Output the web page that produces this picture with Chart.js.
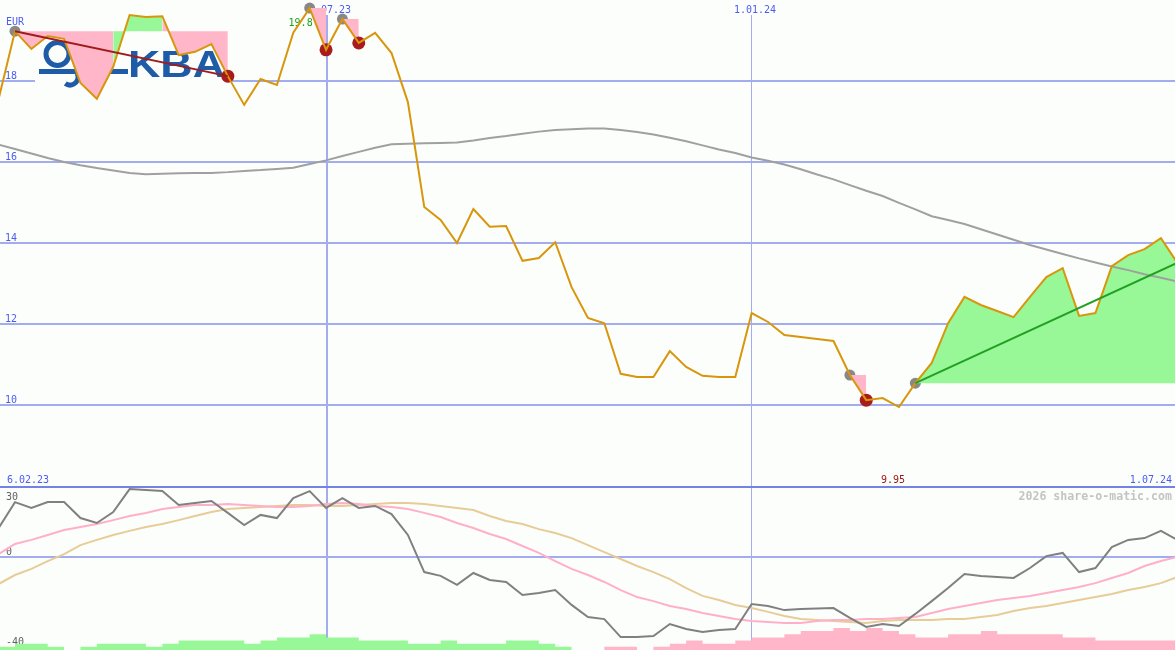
<!DOCTYPE html>
<html><head><meta charset="utf-8">
<script src="https://cdn.jsdelivr.net/npm/chart.js@4/dist/chart.umd.min.js"></script>
<style>
html,body{margin:0;padding:0;background:#fcfefc;}
#wrap{position:relative;width:1175px;height:650px;overflow:hidden;background:#fcfefc;}
#top{position:absolute;left:0;top:0;}
#bot{position:absolute;left:0;top:487px;}
</style></head><body>
<div id="wrap">
<canvas id="top" width="1175" height="487"></canvas>
<canvas id="bot" width="1175" height="163"></canvas>
</div>
<script>
// ---------- data (weekly points, first entry is week -1) ----------
const firstWeek = -1;
const price = [17.56,
 19.23,18.79,19.11,19.04,17.95,17.56,18.35,19.63,19.58,19.60,
 18.64,18.72,18.91,18.12,17.41,18.05,17.90,19.19,19.80,18.77,
 19.53,18.94,19.19,18.69,17.48,14.89,14.57,14.00,14.84,14.40,
 14.42,13.56,13.63,14.02,12.91,12.15,12.02,10.77,10.69,10.69,
 11.33,10.94,10.72,10.69,10.69,12.27,12.05,11.73,11.68,11.63,
 11.58,10.74,10.12,10.17,9.95,10.54,11.04,12.02,12.67,12.47,
 12.32,12.17,12.67,13.16,13.38,12.20,12.27,13.43,13.70,13.85,
 14.12,13.51];
const movingAvg = [16.43,
 16.32,16.21,16.10,16.00,15.92,15.85,15.79,15.73,15.70,15.71,
 15.72,15.73,15.73,15.75,15.78,15.80,15.83,15.86,15.95,16.04,
 16.15,16.25,16.35,16.44,16.45,16.46,16.47,16.48,16.53,16.59,
 16.64,16.70,16.75,16.79,16.81,16.83,16.83,16.79,16.74,16.68,
 16.60,16.51,16.41,16.31,16.22,16.11,16.03,15.94,15.82,15.69,
 15.57,15.43,15.29,15.16,14.99,14.83,14.66,14.57,14.47,14.34,
 14.21,14.08,13.95,13.84,13.73,13.62,13.52,13.42,13.33,13.23,
 13.14,13.05];
const oscillator = [12.9,
 24.4,21.8,24.4,24.4,17.3,15.1,20.0,30.2,29.8,29.3,
 23.1,24.0,24.9,19.6,14.2,18.7,17.3,26.2,29.3,21.8,
 26.2,21.8,22.7,19.1,9.8,-6.7,-8.4,-12.4,-7.1,-10.2,
 -11.1,-16.9,-16.0,-14.7,-21.3,-26.7,-27.6,-35.6,-35.6,-35.1,
 -29.8,-32.0,-33.3,-32.4,-32.0,-20.9,-21.8,-23.6,-23.1,-22.9,
 -22.7,-27.1,-31.1,-29.8,-30.7,-25.3,-19.6,-13.8,-7.6,-8.4,
 -8.9,-9.3,-4.9,0.4,1.8,-6.7,-4.9,4.4,7.6,8.4,
 11.6,7.6];
const signalFast = [1.3,
 5.8,7.6,9.8,12.0,13.3,14.7,16.4,18.2,19.6,21.3,
 22.2,23.1,23.1,23.6,23.1,22.7,22.2,22.2,22.7,23.6,
 24.0,23.6,22.7,22.2,21.3,19.6,17.8,15.1,12.9,10.2,
 8.0,4.9,1.8,-1.8,-5.3,-8.0,-11.1,-14.7,-17.8,-19.6,
 -21.8,-23.1,-24.9,-26.2,-27.6,-28.4,-28.9,-29.3,-29.3,-28.4,
 -28.0,-28.0,-27.6,-27.6,-27.1,-26.7,-24.9,-23.1,-21.8,-20.4,
 -19.1,-18.2,-17.3,-16.0,-14.7,-13.3,-11.6,-9.3,-7.1,-4.0,
 -1.8,0.0];
const signalSlow = [-12.0,
 -8.0,-5.3,-1.8,1.3,5.3,7.6,9.8,11.6,13.3,14.7,
 16.4,18.2,20.0,21.3,21.8,22.2,22.7,23.1,23.1,22.7,
 22.7,23.1,23.6,24.0,24.0,23.6,22.7,21.8,20.9,18.2,
 16.0,14.7,12.4,10.7,8.4,5.3,2.2,-0.9,-4.0,-6.7,
 -9.8,-13.8,-17.3,-19.1,-21.3,-22.7,-24.4,-26.2,-27.6,-28.0,
 -28.4,-28.9,-29.3,-28.4,-28.0,-28.0,-28.0,-27.6,-27.6,-26.7,
 -25.8,-24.0,-22.7,-21.8,-20.4,-19.1,-17.8,-16.4,-14.7,-13.3,
 -11.6,-8.9];
const histogram = [1,
 1,2,2,1,0,1,2,2,2,1,
 2,3,3,3,3,2,3,4,4,5,
 4,4,3,3,3,2,2,3,2,2,
 2,3,3,2,1,0,0,-1,-1,0,
 -1,-2,-3,-2,-2,-3,-4,-4,-5,-6,
 -6,-7,-6,-7,-6,-5,-4,-4,-5,-5,
 -6,-5,-5,-5,-5,-4,-4,-3,-3,-3,
 -3,-3];
const priceTicks = [18,16,14,12,10];
const oscTicks = [30,0,-40];
const patternStart = [0,18,20,51,55];
const patternEnd   = [13,19,21,52,71];
const patternClosed = [true,true,true,true,false];
const trendPatterns = [0,4];
const markWeeks = [19.06,45.02];
const markLabels = ['1.07.23','1.01.24'];
const rangeLabels = ['6.02.23','1.07.24'];
const currency = 'EUR';
const maxText = '19.8', minText = '9.95';
const viewWeeks = [-0.916, 70.86];

// ---------- style ----------
const BG='#fcfefc', GRID='#a4acf0', SEP='#7482e6', LBL='#4c5cf0';
const ORANGE='#d8960c', MA='#a0a0a0', PINK='#ffb6c8', GREEN='#98f898';
const REDC='#a81c1c', GRAYC='#888888', TREND=['#a01c1c','#22a022'];
const OSC='#808080', SIGF='#ffb0c8', SIGS='#e8cc98';
const MONO='"DejaVu Sans Mono", monospace';

const pts = arr => arr.map((v,i)=>({x:firstWeek+i, y:v}));
const at = (arr,k) => arr[k-firstWeek];
const valAt = k => at(price,k);
const maxIdx = price.indexOf(Math.max(...price)) + firstWeek;
const minIdx = price.indexOf(Math.min(...price)) + firstWeek;

// ---------- top chart ----------
const fillSets = patternStart.map((s,j)=>{
  const e = patternEnd[j], lvl = valAt(s), data=[];
  for(let k=s;k<=e;k++) data.push({x:k,y:valAt(k)});
  return {data, borderWidth:0, borderColor:'rgba(0,0,0,0)', pointRadius:0,
    backgroundColor:PINK, fill:{target:{value:lvl}},
    segment:{backgroundColor: c => c.p1.parsed.y >= lvl ? GREEN : PINK}};
});
const trendSets = trendPatterns.map((p,j)=>({
  data:[{x:patternStart[p],y:valAt(patternStart[p])},{x:patternEnd[p],y:valAt(patternEnd[p])}],
  borderColor:TREND[j], borderWidth:2, pointRadius:0, fill:false}));
const redCircles = {data: patternEnd.filter((k,j)=>patternClosed[j]).map(k=>({x:k,y:valAt(k)})),
  showLine:false, pointRadius:6.5, pointBackgroundColor:REDC, pointBorderWidth:0, borderColor:REDC};
const grayCircles = {data: patternStart.map(k=>({x:k,y:valAt(k)})),
  showLine:false, pointRadius:5.5, pointBackgroundColor:GRAYC, pointBorderWidth:0, borderColor:GRAYC};

function text(ctx,s,x,y,color,align,font){
  ctx.fillStyle=color; ctx.textAlign=align||'left'; ctx.textBaseline='alphabetic';
  ctx.font=font||('10px '+MONO); ctx.fillText(s,x,y);
}

const topDecor = {
  id:'topDecor',
  beforeDraw(chart){
    const c=chart.ctx; c.save(); c.fillStyle=BG; c.fillRect(0,0,chart.width,chart.height); c.restore();
  },
  beforeDatasetsDraw(chart){
    const c=chart.ctx, xs=chart.scales.x, ys=chart.scales.y;
    c.save();
    c.fillStyle=GRID;
    priceTicks.forEach(v=>{ const y=Math.round(ys.getPixelForValue(v)); c.fillRect(0,y-1,chart.width,2); });
    markWeeks.forEach((w,i)=>{ const x=xs.getPixelForValue(w);
      if(i===0) c.fillRect(Math.round(x)-1,15,2,chart.height); else c.fillRect(Math.round(x)-1,15,1,chart.height); });
    priceTicks.forEach(v=>{ const y=Math.round(ys.getPixelForValue(v)); text(c,String(v),5,y-2,LBL); });
    markWeeks.forEach((w,i)=>{ const x=xs.getPixelForValue(w); text(c,markLabels[i],x+3,13,LBL,'center'); });
    text(c,currency,xs.getPixelForValue(0),25,LBL,'center');
    text(c,maxText,xs.getPixelForValue(maxIdx)+3,26,'#1e9e1e','right');
    text(c,rangeLabels[0],7,483,LBL,'left');
    text(c,rangeLabels[1],1172,483,LBL,'right');
    text(c,minText,xs.getPixelForValue(minIdx)-6,483,'#a01818','center');
    // logo
    c.fillStyle=BG; c.fillRect(35,36,197,56);
    c.strokeStyle='#1f5ca8'; c.fillStyle='#1f5ca8'; c.lineWidth=5;
    c.beginPath(); c.arc(57.5,54,11.5,0,Math.PI*2); c.stroke();
    c.fillRect(39,69,89,5);
    c.beginPath(); c.arc(70,77,8,-0.15*Math.PI,0.7*Math.PI); c.stroke();
    c.font='bold 37px "Liberation Sans"'; c.textAlign='left'; c.textBaseline='alphabetic';
    const w=c.measureText('KBA').width;
    c.translate(128,77); c.scale(97/w,1); c.fillText('KBA',0,0);
    c.restore();
    c.save(); c.fillStyle=SEP; c.fillRect(0,486,chart.width,1); c.restore();
  }
};

new Chart(document.getElementById('top'),{
  type:'line',
  data:{datasets:[
    ...trendSets,
    {data:pts(price), borderColor:ORANGE, borderWidth:2, pointRadius:0, fill:false, tension:0},
    {data:pts(movingAvg), borderColor:MA, borderWidth:2, pointRadius:0, fill:false, tension:0},
    redCircles,
    ...fillSets,
    grayCircles
  ]},
  options:{
    responsive:false, animation:false, events:[],
    layout:{padding:0, autoPadding:false},
    plugins:{legend:{display:false}, tooltip:{enabled:false}},
    scales:{
      x:{type:'linear', min:viewWeeks[0], max:viewWeeks[1], display:false},
      y:{type:'linear', min:20-487/40.5, max:20, display:false}
    }
  },
  plugins:[topDecor]
});

// ---------- bottom chart ----------
const botDecor = {
  id:'botDecor',
  beforeDraw(chart){
    const c=chart.ctx; c.save(); c.fillStyle=BG; c.fillRect(0,0,chart.width,chart.height); c.restore();
  },
  beforeDatasetsDraw(chart){
    const c=chart.ctx, xs=chart.scales.x, ys=chart.scales.y;
    c.save();
    c.fillStyle=GRID;
    const y0=Math.round(ys.getPixelForValue(0)); c.fillRect(0,y0-1,chart.width,2);
    markWeeks.forEach((w,i)=>{ const x=xs.getPixelForValue(w);
      if(i===0) c.fillRect(Math.round(x)-1,0,2,chart.height); else c.fillRect(Math.round(x)-1,0,1,chart.height); });
    oscTicks.forEach(v=>{ const y=Math.max(13,Math.round(ys.getPixelForValue(v))-2); text(c,String(v),6,y,'#606060'); });
    text(c,'2026 share-o-matic.com',1172,13,'#c4c4c4','right','bold 11.6px '+MONO);
    c.fillStyle=SEP; c.fillRect(0,0,chart.width,1);
    c.restore();
  }
};

new Chart(document.getElementById('bot'),{
  type:'line',
  data:{datasets:[
    {data:pts(oscillator), borderColor:OSC, borderWidth:2, pointRadius:0, fill:false},
    {data:pts(signalFast), borderColor:SIGF, borderWidth:2, pointRadius:0, fill:false},
    {data:pts(signalSlow), borderColor:SIGS, borderWidth:2, pointRadius:0, fill:false},
    {data:pts(histogram.map(v=>v<0?-v:0)), yAxisID:'yh', stepped:'after', borderWidth:0,
      borderColor:'rgba(0,0,0,0)', pointRadius:0, backgroundColor:PINK, fill:'origin'},
    {data:pts(histogram.map(v=>v>0?v:0)), yAxisID:'yh', stepped:'after', borderWidth:0,
      borderColor:'rgba(0,0,0,0)', pointRadius:0, backgroundColor:GREEN, fill:'origin'}
  ]},
  options:{
    responsive:false, animation:false, events:[],
    layout:{padding:0, autoPadding:false},
    plugins:{legend:{display:false}, tooltip:{enabled:false}},
    scales:{
      x:{type:'linear', min:viewWeeks[0], max:viewWeeks[1], display:false},
      y:{type:'linear', min:-93/2.25, max:70/2.25, display:false},
      yh:{type:'linear', min:0, max:163/3.15, display:false}
    }
  },
  plugins:[botDecor]
});
</script>
</body></html>
